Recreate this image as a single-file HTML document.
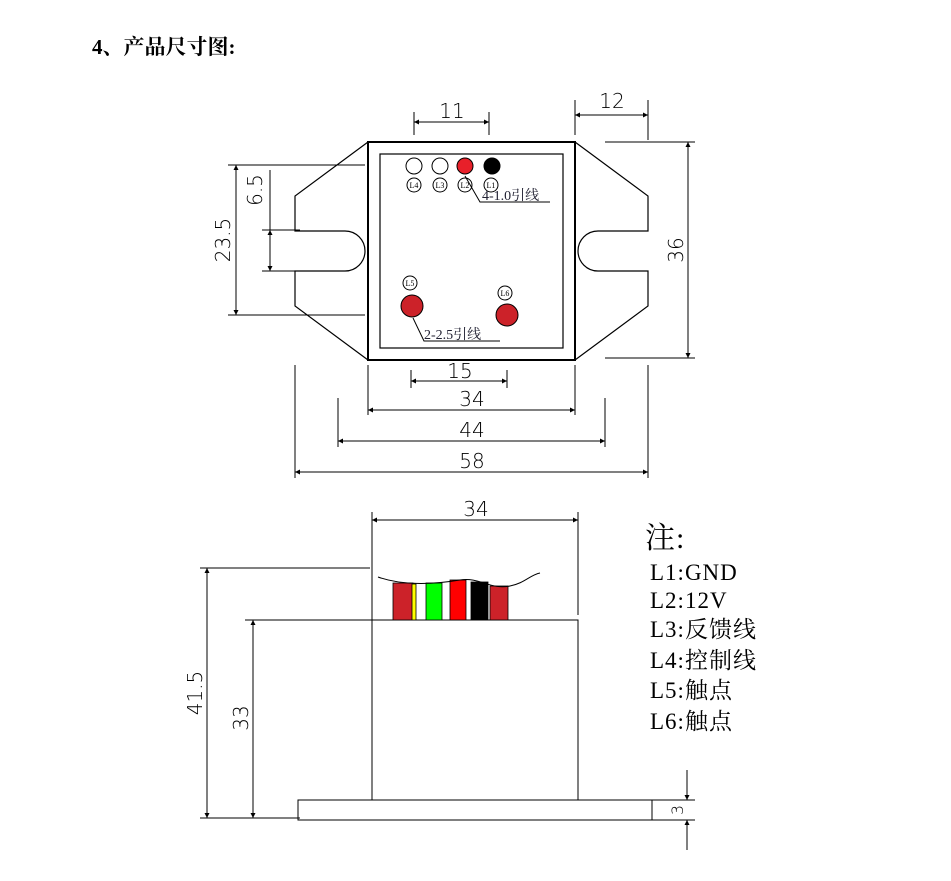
<!DOCTYPE html>
<html><head><meta charset="utf-8"><style>
body{margin:0;background:#fff}
svg text{font-family:"Liberation Sans","Noto Sans CJK SC",sans-serif}
.s{font-family:"Liberation Serif","Noto Serif CJK SC",serif}
.d{font-family:"DejaVu Sans","Liberation Sans",sans-serif;font-weight:300}
</style></head><body>
<svg width="951" height="876" viewBox="0 0 951 876" xmlns="http://www.w3.org/2000/svg">
<defs>
<marker id="a" viewBox="0 0 10 10" refX="10" refY="5" markerWidth="9" markerHeight="5" orient="auto-start-reverse" markerUnits="userSpaceOnUse"><path d="M0,0L10,5L0,10z" fill="#000"/></marker>
</defs>
<text x="92" y="54" font-size="21" font-weight="bold" style="font-family:'Liberation Serif','Noto Serif CJK SC',serif">4、产品尺寸图:</text>
<g fill="none" stroke="#000" stroke-width="1.2">
<rect x="368" y="142" width="207" height="218" stroke-width="2"/>
<rect x="380" y="154" width="183" height="194"/>
<path d="M368,142L295,196V231H345A20,20 0 0 1 345,271H295V306L368,360"/>
<path d="M575,142L648,196V231H598A20,20 0 0 0 598,271H648V306L575,360"/>
</g>
<g stroke="#000" stroke-width="1">
<circle cx="414" cy="166" r="8" fill="#fff"/>
<circle cx="440" cy="166" r="8" fill="#fff"/>
<circle cx="465" cy="166" r="8" fill="#e8202a"/>
<circle cx="492" cy="166" r="8" fill="#000"/>
<circle cx="414" cy="185" r="7" fill="#fff"/>
<circle cx="440" cy="185" r="7" fill="#fff"/>
<circle cx="465" cy="185" r="7" fill="#fff"/>
<circle cx="491" cy="185" r="7" fill="#fff"/>
<circle cx="410" cy="283" r="7" fill="#fff"/>
<circle cx="505" cy="293" r="7" fill="#fff"/>
<circle cx="412" cy="306" r="11" fill="#cc2229"/>
<circle cx="507" cy="315" r="11" fill="#cc2229"/>
<path d="M465,176L480,202H550M413,318L424,341H500" fill="none"/>
</g>
<g font-size="8" text-anchor="middle">
<text x="414" y="188" class="s">L4</text><text x="440" y="188" class="s">L3</text><text x="465" y="188" class="s">L2</text><text x="491" y="188" class="s">L1</text><text x="410" y="286" class="s">L5</text><text x="505" y="296" class="s">L6</text>
</g>
<text x="482" y="200" font-size="14" class="s" fill="#223">4-1.0引线</text>
<text x="424" y="339" font-size="14" class="s" fill="#223">2-2.5引线</text>
<g stroke="#000" stroke-width="1" fill="none">
<path d="M414,112V135M489,112V135M575,100V135M648,100V140"/>
<line x1="414" y1="122" x2="489" y2="122" marker-start="url(#a)" marker-end="url(#a)"/>
<line x1="575" y1="115" x2="648" y2="115" marker-start="url(#a)" marker-end="url(#a)"/>
<path d="M228,165H365M228,315H365M262,230H300M262,271H300"/>
<line x1="236" y1="165" x2="236" y2="315" marker-start="url(#a)" marker-end="url(#a)"/>
<path d="M270,170V230"/>
<line x1="270" y1="230" x2="270" y2="271" marker-start="url(#a)" marker-end="url(#a)"/>
<path d="M605,142H695M605,358H695"/>
<line x1="688" y1="142" x2="688" y2="358" marker-start="url(#a)" marker-end="url(#a)"/>
<path d="M295,365V478M338,398V447M368,365V415M411,370V388M507,370V388M575,365V415M605,398V447M648,365V478"/>
<line x1="411" y1="381" x2="507" y2="381" marker-start="url(#a)" marker-end="url(#a)"/>
<line x1="368" y1="410" x2="575" y2="410" marker-start="url(#a)" marker-end="url(#a)"/>
<line x1="338" y1="441" x2="605" y2="441" marker-start="url(#a)" marker-end="url(#a)"/>
<line x1="295" y1="472" x2="648" y2="472" marker-start="url(#a)" marker-end="url(#a)"/>
<path d="M372,512V620M578,512V615"/>
<line x1="372" y1="520" x2="578" y2="520" marker-start="url(#a)" marker-end="url(#a)"/>
<path d="M200,568H370M245,620H578V800M372,620V800M200,818H300" />
<rect x="298" y="800" width="354" height="20"/>
<line x1="207" y1="568" x2="207" y2="818" marker-start="url(#a)" marker-end="url(#a)"/>
<line x1="253" y1="620" x2="253" y2="818" marker-start="url(#a)" marker-end="url(#a)"/>
<path d="M652,800H695M652,820H695M687,770V800M687,820V850"/>
<line x1="687" y1="780" x2="687" y2="800" marker-end="url(#a)"/>
<line x1="687" y1="840" x2="687" y2="820" marker-end="url(#a)"/>
</g>
<g stroke="#000" stroke-width="0.8">
<rect x="393" y="583" width="20" height="37" fill="#cc2229"/>
<rect x="412" y="584" width="4" height="36" fill="#ff0"/>
<rect x="426" y="583" width="16" height="37" fill="#0f0"/>
<rect x="450" y="580" width="16" height="40" fill="#f00"/>
<rect x="471" y="582" width="17" height="38" fill="#000"/>
<rect x="490" y="586" width="18" height="34" fill="#cc2229"/>
</g>
<path d="M378,577C400,585 430,585 460,580C480,577 490,590 510,586C525,583 530,575 540,573" fill="none" stroke="#000" stroke-width="1"/>
<g font-size="20" text-anchor="middle">
<text x="452" y="118" class="d">11</text><text x="612" y="108" class="d">12</text>
<text x="460" y="378" class="d">15</text><text x="472" y="406" class="d">34</text><text x="472" y="437" class="d">44</text><text x="472" y="468" class="d">58</text>
<text x="476" y="516" class="d">34</text>
<text transform="translate(262,190) rotate(-90)" class="d">6.5</text>
<text transform="translate(230,240) rotate(-90)" class="d">23.5</text>
<text transform="translate(683,250) rotate(-90)" class="d">36</text>
<text transform="translate(202,693) rotate(-90)" class="d">41.5</text>
<text transform="translate(248,718) rotate(-90)" class="d">33</text>
<text transform="translate(683,810) rotate(-90)" font-size="16" class="d">3</text>
</g>
<g font-size="23" style="letter-spacing:1px">
<text x="645" y="548" font-size="30" class="s">注:</text>
<text x="650" y="580" class="s">L1:GND</text>
<text x="650" y="608" class="s">L2:12V</text>
<text x="650" y="637" class="s">L3:反馈线</text>
<text x="650" y="668" class="s">L4:控制线</text>
<text x="650" y="698" class="s">L5:触点</text>
<text x="650" y="729" class="s">L6:触点</text>
</g>
</svg>
</body></html>
